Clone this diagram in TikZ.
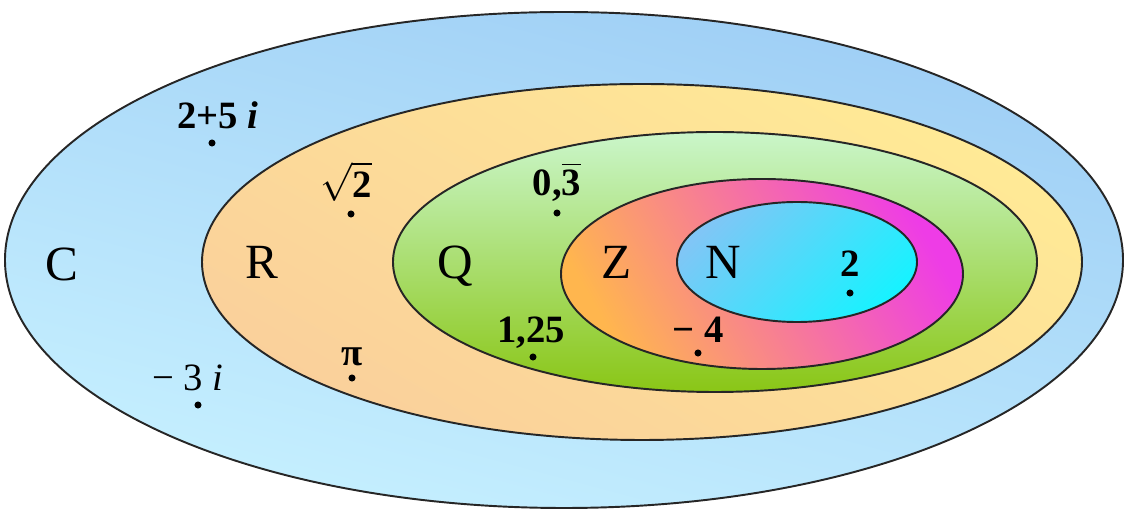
\documentclass[tikz,border=0pt]{standalone}
\usepackage{fontspec}
\setmainfont{Liberation Serif}
\usetikzlibrary{positioning}

\definecolor{cTop}{RGB}{158,206,245}
\definecolor{cBot}{RGB}{198,240,255}
\definecolor{rTop}{RGB}{255,234,150}
\definecolor{rBot}{RGB}{250,208,155}
\definecolor{qTop}{RGB}{202,246,202}
\definecolor{qBot}{RGB}{138,198,22}
\definecolor{zMag}{RGB}{238,60,230}
\definecolor{zOrg}{RGB}{255,182,78}
\definecolor{nBlue}{RGB}{128,198,246}
\definecolor{nCyan}{RGB}{24,242,255}

\begin{document}
\begin{tikzpicture}[
    set/.style={draw=black!85, line width=0.55pt},
    setname/.style={font=\fontsize{14}{16}\selectfont, inner sep=0pt, text depth=0pt},
    num/.style={font=\fontsize{11}{13}\selectfont\bfseries, inner sep=0pt, text depth=0pt},
    pt/.style={circle, fill=black, inner sep=0pt, minimum size=2pt}
]
\useasboundingbox (0,0) rectangle (11.28,5.11);

% Sets
\draw[set, top color=cTop, bottom color=cBot, shading angle=-15] (5.64,2.51) ellipse (5.59cm and 2.48cm);
\draw[set, top color=rTop, bottom color=rBot, shading angle=-30] (6.42,2.49) ellipse (4.40cm and 1.78cm);
\draw[set, top color=qTop, bottom color=qBot] (7.15,2.49) ellipse (3.22cm and 1.30cm);
\draw[set, top color=zMag, bottom color=zOrg, shading angle=-60] (7.62,2.37) ellipse (2.01cm and 0.95cm);
\draw[set, top color=nBlue, bottom color=nCyan, shading angle=45] (7.97,2.49) ellipse (1.20cm and 0.60cm);

% Set names
\node[setname] (C) at (0.62,2.47) {C};
\node[setname] (R) at (2.62,2.49) {R};
\node[setname] (Q) at (4.55,2.49) {Q};
\node[setname] (Z) at (6.17,2.49) {Z};
\node[setname] (N) at (7.23,2.49) {N};

% Elements
\node[pt] (d1) at (2.12,3.68) {};
\node[pt] (d2) at (3.51,2.97) {};
\node[pt] (d3) at (5.57,2.98) {};
\node[pt] (d4) at (5.33,1.54) {};
\node[pt] (d5) at (6.98,1.58) {};
\node[pt] (d6) at (3.52,1.33) {};
\node[pt] (d7) at (1.98,1.06) {};
\node[pt] (d8) at (8.50,2.18) {};

\node[num, above=0.1cm of d1, xshift=0.06cm] {2+5 \textit{i}};
\node[num, above=0.12cm of d2, xshift=-0.05cm] {$\sqrt{\textbf{2}}$};
\node[num, above=0.13cm of d3] {0,$\overline{\textbf{3}}$};
\node[num, above=0.1cm of d4, xshift=-0.02cm] {1,25};
\node[num, above=0.06cm of d5] {− 4};
\node[num, above=0.08cm of d6] {π};
\node[num, above=0.1cm of d7, xshift=-0.1cm, font=\fontsize{11}{13}\selectfont] {− 3 \textit{i}};
\node[num, above=0.12cm of d8] {2};

\end{tikzpicture}
\end{document}
